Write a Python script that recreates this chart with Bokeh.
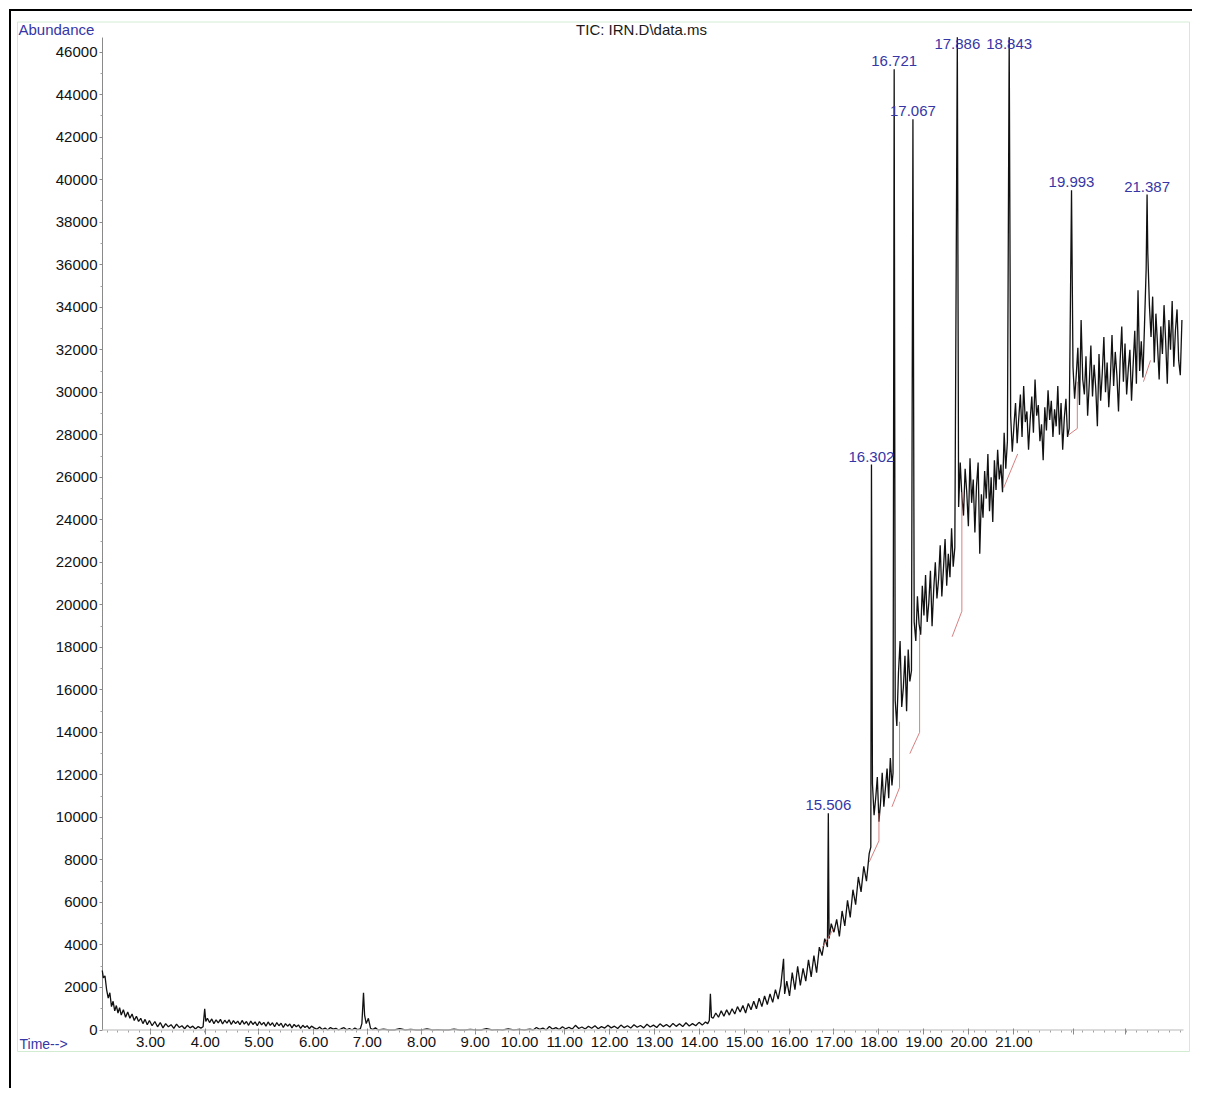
from bokeh.plotting import figure
from bokeh.models import Range1d, FixedTicker, LabelSet, ColumnDataSource
from bokeh.core.properties import value
from bokeh.embed import file_html
from bokeh.resources import INLINE

# ---------------- data (retention time [min], abundance) ----------------
early_decay = [
    (2.11, 2800), (2.13, 2450), (2.16, 2550), (2.19, 1900), (2.22, 1500), (2.25, 1750),
    (2.28, 1100), (2.31, 1350), (2.34, 900), (2.37, 1150), (2.40, 800), (2.43, 1050),
    (2.46, 700), (2.50, 950), (2.54, 600), (2.58, 850), (2.62, 550), (2.66, 750),
    (2.70, 450), (2.74, 650), (2.78, 400), (2.82, 550), (2.86, 300), (2.90, 500),
    (2.94, 250), (2.98, 450), (3.03, 200), (3.08, 400), (3.13, 150), (3.18, 350),
    (3.23, 100), (3.28, 300), (3.33, 150), (3.38, 250), (3.43, 80), (3.48, 280),
    (3.53, 120), (3.58, 200), (3.63, 60), (3.68, 220), (3.73, 100), (3.78, 180),
    (3.83, 50), (3.88, 160), (3.93, 90), (3.97, 150),
]
band_4_6 = [
    (4.00, 1000), (4.02, 400), (4.05, 550), (4.09, 350), (4.13, 520), (4.17, 300),
    (4.21, 480), (4.25, 330), (4.29, 500), (4.33, 280), (4.37, 460), (4.41, 320),
    (4.45, 480), (4.49, 260), (4.53, 440), (4.57, 300), (4.61, 420), (4.65, 250),
    (4.69, 450), (4.73, 280), (4.77, 400), (4.81, 220), (4.85, 420), (4.89, 260),
    (4.93, 380), (4.97, 200), (5.01, 400), (5.05, 240), (5.09, 360), (5.13, 180),
    (5.17, 380), (5.21, 220), (5.25, 340), (5.29, 150), (5.33, 350), (5.37, 200),
    (5.41, 320), (5.45, 120), (5.49, 300), (5.53, 180), (5.57, 280), (5.61, 100),
    (5.65, 260), (5.69, 150), (5.73, 240), (5.77, 80), (5.81, 220), (5.85, 120),
    (5.89, 200), (5.93, 60), (5.97, 180),
]
band_6_7 = [
    (6.02, 100), (6.07, 30), (6.12, 140), (6.17, 20), (6.22, 90), (6.27, 0),
    (6.32, 120), (6.37, 40), (6.42, 80), (6.47, 0), (6.52, 60), (6.57, 110),
    (6.62, 10), (6.67, 70), (6.72, 0), (6.77, 90), (6.82, 20), (6.87, 50),
    (6.90, 300), (6.93, 1750), (6.95, 700), (6.98, 300), (7.02, 550), (7.06, 80),
    (7.10, 20), (7.15, 100),
]
flat_7_10 = [
    (7.2, 0), (7.3, 40), (7.4, 0), (7.5, 0), (7.6, 60), (7.7, 0), (7.8, 30), (7.9, 0),
    (8.0, 0), (8.1, 50), (8.2, 0), (8.3, 20), (8.4, 0), (8.5, 0), (8.6, 40), (8.7, 0),
    (8.8, 0), (8.9, 30), (9.0, 0), (9.1, 0), (9.2, 60), (9.3, 0), (9.4, 20), (9.5, 0),
    (9.6, 50), (9.7, 0), (9.8, 30), (9.9, 0),
]
slow_rise_10_13 = [
    (10.00, 40), (10.06, 0), (10.12, 120), (10.18, 30), (10.24, 90), (10.30, 0),
    (10.36, 170), (10.42, 40), (10.48, 110), (10.54, 20), (10.60, 150), (10.66, 50),
    (10.72, 130), (10.78, 40), (10.84, 220), (10.90, 70), (10.96, 140), (11.02, 50),
    (11.08, 180), (11.14, 80), (11.20, 200), (11.26, 60), (11.32, 160), (11.38, 90),
    (11.44, 220), (11.50, 100), (11.56, 180), (11.62, 70), (11.68, 230), (11.74, 110),
    (11.80, 200), (11.86, 90), (11.92, 250), (11.98, 130), (12.04, 210), (12.10, 100),
    (12.16, 270), (12.22, 140), (12.28, 230), (12.34, 120), (12.40, 290), (12.46, 160),
    (12.52, 260), (12.58, 140), (12.64, 310), (12.70, 170), (12.76, 290), (12.82, 160),
    (12.88, 340), (12.94, 190), (13.00, 300), (13.06, 200), (13.12, 360), (13.18, 230),
    (13.24, 380), (13.28, 300), (13.31, 450), (13.33, 1700), (13.35, 600),
]
climb_13_16 = [
    (13.38, 550), (13.43, 800), (13.48, 600), (13.53, 900), (13.58, 650), (13.63, 950),
    (13.68, 700), (13.73, 1000), (13.78, 750), (13.83, 1100), (13.88, 850), (13.93, 1150),
    (13.98, 800), (14.03, 1250), (14.08, 950), (14.13, 1350), (14.18, 1000), (14.23, 1500),
    (14.28, 1100), (14.33, 1600), (14.38, 1200), (14.43, 1700), (14.48, 1300), (14.53, 1900),
    (14.58, 1450), (14.63, 2100), (14.68, 3350), (14.70, 1700), (14.74, 2300), (14.79, 1600),
    (14.84, 2700), (14.89, 1900), (14.94, 3000), (14.99, 2100), (15.04, 2900), (15.09, 2300),
    (15.14, 3300), (15.19, 2500), (15.24, 3500), (15.29, 2700), (15.34, 3900), (15.39, 3500),
    (15.44, 4300), (15.49, 3900), (15.52, 4300), (15.56, 5000), (15.61, 4600), (15.66, 5200),
    (15.71, 4400), (15.76, 5600), (15.81, 4900), (15.86, 6100), (15.91, 5300), (15.96, 6600),
    (16.01, 5900), (16.06, 7200), (16.11, 6500), (16.16, 7700), (16.21, 7000), (16.26, 8300),
]
shoulder_16_17 = [
    (16.29, 8600), (16.32, 11600), (16.35, 10100), (16.38, 10900), (16.41, 11900),
    (16.44, 9800), (16.47, 10700), (16.50, 12100), (16.53, 10500), (16.56, 11400),
    (16.59, 12300), (16.62, 10900), (16.65, 12800), (16.68, 11500), (16.70, 12100),
    (16.74, 15500), (16.77, 14300), (16.80, 16800), (16.83, 18300), (16.86, 15200),
    (16.89, 16100), (16.92, 17600), (16.95, 15000), (16.98, 17900), (17.01, 16400),
    (17.04, 16900),
]
rise_17_18 = [
    (17.09, 19200), (17.12, 18300), (17.15, 20400), (17.18, 19100), (17.21, 18600),
    (17.24, 20900), (17.27, 19500), (17.30, 21400), (17.33, 19200), (17.36, 20100),
    (17.39, 21600), (17.42, 19000), (17.45, 20700), (17.48, 22000), (17.51, 20300),
    (17.54, 21200), (17.57, 22800), (17.60, 20400), (17.63, 21700), (17.66, 23100),
    (17.69, 20900), (17.72, 22400), (17.75, 21300), (17.78, 23600), (17.81, 21800),
    (17.84, 22700),
]
plateau_18_19 = [
    (17.91, 24600), (17.94, 26700), (17.97, 25100), (18.00, 24200), (18.03, 26400),
    (18.06, 25300), (18.09, 23700), (18.12, 26900), (18.15, 24800), (18.18, 25900),
    (18.21, 23400), (18.24, 25600), (18.27, 26700), (18.30, 22400), (18.33, 25200),
    (18.36, 24100), (18.39, 26300), (18.42, 25000), (18.45, 27100), (18.48, 24400),
    (18.51, 26000), (18.54, 23900), (18.57, 26800), (18.60, 25400), (18.63, 27300),
    (18.66, 25900), (18.69, 26600), (18.72, 25300), (18.75, 28100), (18.78, 26400),
    (18.81, 27700),
]
plateau_19_20 = [
    (18.87, 28900), (18.90, 27200), (18.93, 28400), (18.96, 29500), (18.99, 27600),
    (19.02, 28800), (19.05, 29900), (19.08, 27900), (19.11, 30300), (19.14, 28600),
    (19.17, 29100), (19.20, 27300), (19.23, 28700), (19.26, 29800), (19.29, 28100),
    (19.32, 30600), (19.35, 28900), (19.38, 29400), (19.41, 27700), (19.44, 28500),
    (19.47, 26800), (19.50, 29300), (19.53, 28200), (19.56, 30100), (19.59, 28700),
    (19.62, 29600), (19.65, 27900), (19.68, 29200), (19.71, 28400), (19.74, 30300),
    (19.77, 28000), (19.80, 29500), (19.83, 27300), (19.86, 28800), (19.89, 29700),
    (19.92, 27900), (19.95, 28300),
]
tail_20_21 = [
    (20.02, 31200), (20.05, 29700), (20.08, 30800), (20.11, 32100), (20.14, 29400),
    (20.17, 33400), (20.20, 30600), (20.23, 29900), (20.26, 31700), (20.29, 28900),
    (20.32, 30400), (20.35, 32200), (20.38, 29800), (20.41, 31300), (20.44, 30200),
    (20.47, 28400), (20.50, 31800), (20.53, 29600), (20.56, 30900), (20.59, 32600),
    (20.62, 30000), (20.65, 31400), (20.68, 29300), (20.71, 30700), (20.74, 32700),
    (20.77, 30300), (20.80, 31900), (20.83, 30800), (20.86, 29100), (20.89, 31500),
    (20.92, 33100), (20.95, 30500), (20.98, 32300), (21.01, 29900), (21.04, 31100),
    (21.07, 32000), (21.10, 29600), (21.13, 31300), (21.16, 32900), (21.19, 30400),
    (21.22, 34800), (21.25, 31000), (21.28, 32400), (21.31, 30700), (21.34, 33200),
    (21.37, 35800),
]
tail_21_22 = [
    (21.40, 36600), (21.43, 34100), (21.46, 32600), (21.49, 34500), (21.52, 31400),
    (21.55, 33700), (21.58, 32200), (21.61, 30600), (21.64, 33100), (21.67, 31800),
    (21.70, 34100), (21.73, 32400), (21.76, 30400), (21.79, 33400), (21.82, 32000),
    (21.85, 34300), (21.88, 31200), (21.91, 32900), (21.94, 33900), (21.97, 31500),
    (22.00, 30800), (22.03, 33400),
]

# labelled peaks (the two tallest run off the top of the plot)
peak_times = [15.506, 16.302, 16.721, 17.067, 17.886, 18.843, 19.993, 21.387]
peak_heights = [10200, 26600, 45200, 42850, 46700, 46700, 39500, 39300]
peak_labels = ["15.506", "16.302", "16.721", "17.067", "17.886", "18.843", "19.993", "21.387"]

# integration baselines (red)
base_start_t = [15.40, 16.26, 16.68, 17.01, 17.79, 18.74, 19.94, 21.32]
base_start_a = [3900, 7900, 10500, 13000, 18500, 25500, 28000, 30500]
base_end_t = [15.61, 16.44, 16.82, 17.19, 17.97, 19.00, 20.10, 21.45]
base_end_a = [4800, 8900, 11400, 14000, 19700, 27100, 28300, 31500]
drop_top_a = [4800, 10200, 14500, 18700, 25300, 27100, 30500, 31500]

# axis ticks (as printed in the picture)
x_tick_labels = ["3.00", "4.00", "5.00", "6.00", "7.00", "8.00", "9.00", "10.00", "11.00",
                 "12.00", "13.00", "14.00", "15.00", "16.00", "17.00", "18.00", "19.00",
                 "20.00", "21.00", "", ""]
x_tick_pos = [3.00, 4.01, 5.00, 6.01, 7.00, 8.00, 8.99, 9.81, 10.64, 11.47, 12.30, 13.13,
              13.96, 14.79, 15.61, 16.44, 17.27, 18.10, 18.93, 20.03, 20.99]
y_ticks = list(range(0, 46001, 2000))
y_minor = list(range(1000, 46000, 2000))
t_start, t_end = 2.1144, 22.059      # extent of the time axis
a_top = 46690                         # top of the abundance axis

# ---------------- geometry helpers (canvas pixel -> data) ----------------
W, H = 1192, 1088
PX_PER_MIN = 54.2
PX_PER_UNIT = 977.8 / 46000.0


def tx(px):
    return 3.0 + (px - 150.0) / PX_PER_MIN


def ay(py):
    return (1029.5 - py) / PX_PER_UNIT


# ---------------- build ----------------
series = sorted(early_decay + band_4_6 + band_6_7 + flat_7_10 + slow_rise_10_13 +
                climb_13_16 + shoulder_16_17 + rise_17_18 + plateau_18_19 +
                plateau_19_20 + tail_20_21 + tail_21_22 +
                list(zip(peak_times, peak_heights)))
t = [s[0] for s in series]
a = [s[1] for s in series]

p = figure(width=W, height=H, output_backend="svg", toolbar_location=None,
           x_range=Range1d(tx(0), tx(W)), y_range=Range1d(ay(H), ay(0)),
           min_border_left=0, min_border_right=0, min_border_top=0, min_border_bottom=0)
p.outline_line_color = None
p.xgrid.visible = False
p.ygrid.visible = False
p.background_fill_color = "white"
p.border_fill_color = "white"

# outer black frame (top and left edges) and light green chart box
p.quad(left=[tx(8.5)], right=[tx(10.5)], top=[ay(8.5)], bottom=[ay(H)],
       fill_color="black", line_color=None)
p.quad(left=[tx(8.5)], right=[tx(W)], top=[ay(8.5)], bottom=[ay(10.5)],
       fill_color="black", line_color=None)
p.quad(left=[tx(17)], right=[tx(1189)], top=[ay(21.5)], bottom=[ay(1051)],
       fill_color=None, line_color="#d2ecd2", line_width=1)

# y axis line
p.segment(x0=[t_start], y0=[0], x1=[t_start], y1=[a_top], line_color="#8a8a8a", line_width=1)

# chromatogram
p.line(t, a, line_color="#111111", line_width=1.3)
p.segment(x0=base_start_t, y0=base_start_a, x1=base_end_t, y1=base_end_a,
          line_color="#d06a6a", line_width=1, line_alpha=0.85)
p.segment(x0=base_end_t, y0=base_end_a, x1=base_end_t, y1=drop_top_a,
          line_color="#d06a6a", line_width=1, line_alpha=0.85)

# x axis line on top of the zero-level trace
p.segment(x0=[t_start], y0=[0], x1=[t_end], y1=[0], line_color="#cfcfcf", line_width=1.6)

label_y = [min(h, 46000) for h in peak_heights]
src = ColumnDataSource(dict(x=peak_times, y=label_y, text=peak_labels))
p.add_layout(LabelSet(x="x", y="y", text="text", source=src, text_align="center",
                      text_baseline="alphabetic", y_offset=3,
                      text_font=value("Liberation Sans"), text_font_size=value("15px"),
                      text_color="#3636a6"))

# texts around the plot
p.text(x=[tx(18)], y=[ay(29)], text=["Abundance"], text_align="left",
       text_baseline="middle", text_font=value("Liberation Sans"),
       text_font_size=value("15px"), text_color="#3636a6")
p.text(x=[tx(641)], y=[ay(29)], text=["TIC: IRN.D\\data.ms"], text_align="center",
       text_baseline="middle", text_font=value("Liberation Sans"),
       text_font_size=value("15px"), text_color="#1a1a1a")
p.text(x=[tx(19)], y=[ay(1043)], text=["Time-->"], text_align="left",
       text_baseline="middle", text_font=value("Liberation Sans"),
       text_font_size=value("14px"), text_color="#3636a6")

# axes, drawn at the data origin
xa = p.xaxis[0]
xa.fixed_location = 0
xa.ticker = FixedTicker(ticks=x_tick_pos,
                        minor_ticks=[round(2.2 + 0.2 * i, 2) for i in range(100)])
xa.major_label_overrides = {pos: lab for pos, lab in zip(x_tick_pos, x_tick_labels)}
xa.axis_line_color = None
xa.major_tick_line_color = "#8a8a8a"
xa.major_tick_out = 4
xa.major_tick_in = 2
xa.minor_tick_line_color = "#a0a0a0"
xa.minor_tick_out = 2
xa.minor_tick_in = 0
xa.major_label_standoff = 3

ya = p.yaxis[0]
ya.fixed_location = t_start
ya.ticker = FixedTicker(ticks=y_ticks, minor_ticks=y_minor)
ya.axis_line_color = None
ya.major_tick_line_color = "#8a8a8a"
ya.major_tick_out = 3
ya.major_tick_in = 0
ya.minor_tick_line_color = "#a0a0a0"
ya.minor_tick_out = 2
ya.minor_tick_in = 0
ya.major_label_standoff = 2

for ax in (xa, ya):
    ax.major_label_text_font = "Liberation Sans"
    ax.major_label_text_font_size = "15px"
    ax.major_label_text_color = "#111111"

open("out.html", "w").write(file_html(p, INLINE))
